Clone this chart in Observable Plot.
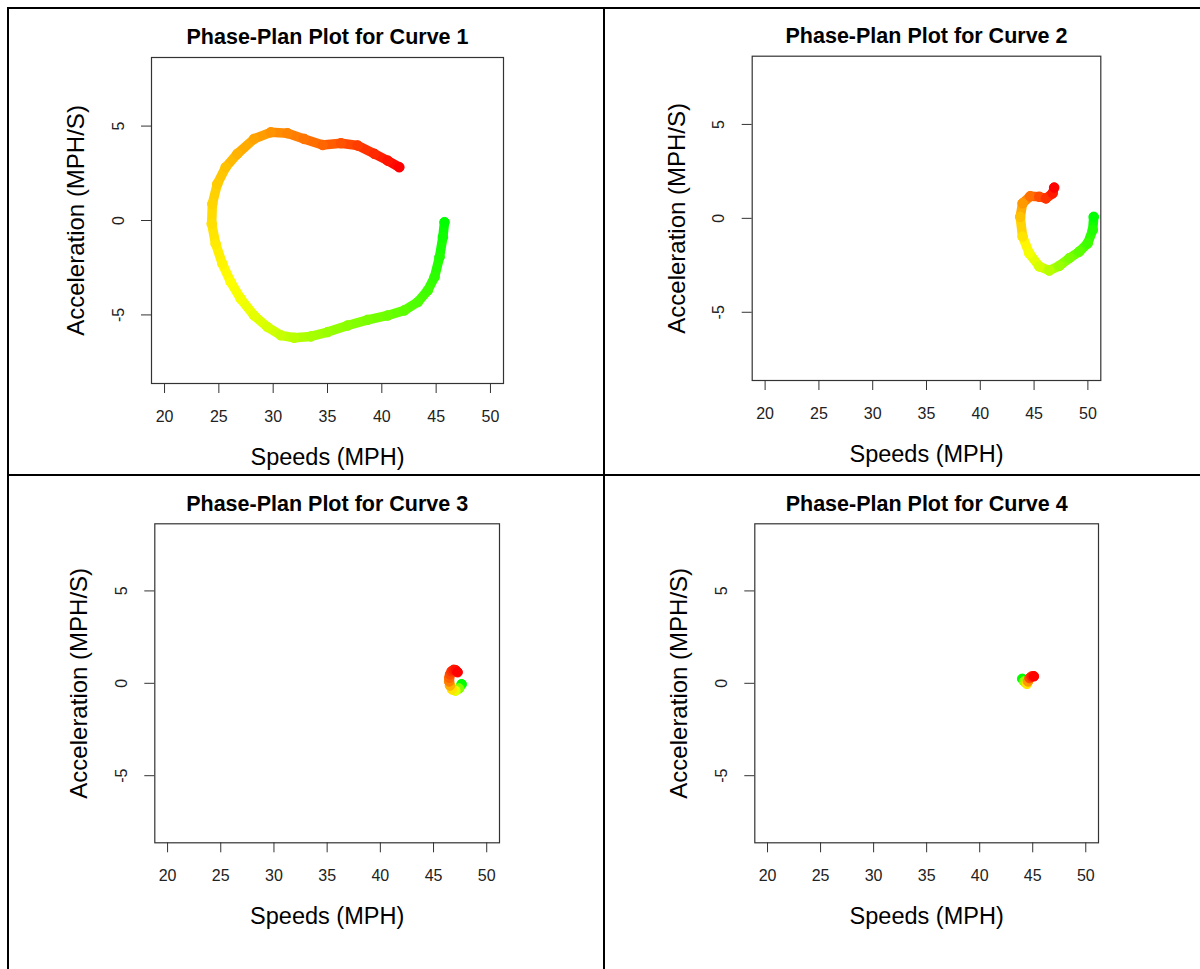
<!DOCTYPE html>
<html>
<head>
<meta charset="utf-8">
<script src="https://cdn.jsdelivr.net/npm/d3@7"></script>
<script src="https://cdn.jsdelivr.net/npm/@observablehq/plot@0.6"></script>
<style>
  html, body { margin: 0; padding: 0; background: #fff; }
  #page { position: relative; width: 1200px; height: 969px; overflow: hidden; background: #fff; }
  .panel { position: absolute; }
  .rule { position: absolute; background: #000; z-index: 5; }
</style>
</head>
<body>
<div id="page"></div>
<script>
// ---- Data ----
const titles = ["Phase-Plan Plot for Curve 1", "Phase-Plan Plot for Curve 2", "Phase-Plan Plot for Curve 3", "Phase-Plan Plot for Curve 4"];
const xLabel = "Speeds (MPH)";
const yLabel = "Acceleration (MPH/S)";
const xTicks = [20, 25, 30, 35, 40, 45, 50];
const yTicks = [-5, 0, 5];

// Curve 1 (green start -> red end)
const speed1 = [45.77,45.62,45.31,44.85,44.23,43.31,42.08,40.54,38.70,36.85,35.01,33.47,31.93,30.70,29.47,28.24,27.01,26.09,25.32,24.70,24.34,24.40,24.86,25.63,26.70,28.24,29.78,31.32,32.85,34.55,36.24,37.78,39.31,40.54,41.61];
const accel1 = [-0.09,-0.88,-1.94,-3.00,-3.70,-4.32,-4.76,-5.03,-5.26,-5.56,-5.91,-6.14,-6.21,-6.08,-5.64,-5.03,-4.14,-3.26,-2.29,-1.23,-0.17,0.88,1.94,2.82,3.53,4.32,4.67,4.62,4.32,4.00,4.09,3.97,3.53,3.17,2.82];
const time1  = [0,0.03,0.06,0.09,0.12,0.15,0.18,0.21,0.24,0.27,0.30,0.33,0.36,0.39,0.42,0.45,0.48,0.50,0.52,0.54,0.56,0.58,0.60,0.62,0.65,0.68,0.71,0.74,0.77,0.80,0.84,0.88,0.92,0.96,1];

// Curve 2
const speed2 = [50.54,50.45,49.98,49.20,48.27,47.34,46.41,45.48,44.55,43.93,43.71,43.93,44.64,45.48,46.10,46.72,46.87];
const accel2 = [0.08,-0.62,-1.33,-1.77,-2.12,-2.53,-2.78,-2.56,-1.86,-0.97,0.08,0.80,1.18,1.15,1.06,1.33,1.64];
const time2  = [0,0.06,0.12,0.18,0.24,0.30,0.36,0.42,0.48,0.55,0.62,0.70,0.78,0.85,0.90,0.95,1];

// Curve 3
const speed3 = [47.64,47.40,47.05,46.75,46.55,46.47,46.48,46.55,46.70,46.90,47.10,47.26];
const accel3 = [-0.05,-0.28,-0.40,-0.33,-0.12,0.10,0.30,0.48,0.65,0.73,0.70,0.60];
const time3  = [0,0.25,0.45,0.55,0.65,0.75,0.80,0.85,0.90,0.94,0.97,1];

// Curve 4
const speed4 = [44.01,44.20,44.45,44.55,44.70,44.90,45.11];
const accel4 = [0.24,0.10,-0.03,0.10,0.28,0.37,0.38];
const time4  = [0,0.30,0.55,0.70,0.85,0.93,1];

const colorStops = ["#00ff00", "#ffff00", "#ff0000"];

// ---- Layout of the four panels ----
const panels = [
  {speed: speed1, accel: accel1, time: time1, title: titles[0], left: 0,   top: 0,   width: 603, height: 475, ml: 151,   mr: 100,   mt: 57,   mb: 92},
  {speed: speed2, accel: accel2, time: time2, title: titles[1], left: 604, top: 0,   width: 596, height: 475, ml: 147.7, mr: 99.7,  mt: 55.7, mb: 95},
  {speed: speed3, accel: accel3, time: time3, title: titles[2], left: 0,   top: 475, width: 603, height: 494, ml: 154.3, mr: 104,   mt: 48.3, mb: 126.7},
  {speed: speed4, accel: accel4, time: time4, title: titles[3], left: 604, top: 475, width: 596, height: 494, ml: 150.3, mr: 102,   mt: 48.3, mb: 126.7}
];

const font = "'Liberation Sans', Arial, Helvetica, sans-serif";
const page = document.getElementById("page");

for (const p of panels) {
  const pts = p.speed.map((s, i) => ({speed: s, accel: p.accel[i], t: p.time[i]}));
  const segs = d3.pairs(pts).map(([a, b]) => ({x1: a.speed, y1: a.accel, x2: b.speed, y2: b.accel, t: (a.t + b.t) / 2}));
  const chart = Plot.plot({
    width: p.width,
    height: p.height,
    marginLeft: p.ml,
    marginRight: p.mr,
    marginTop: p.mt,
    marginBottom: p.mb,
    x: {domain: [18.8, 51.2]},
    y: {domain: [-8.632, 8.632]},
    color: {type: "linear", domain: [0, 0.5, 1], range: colorStops, interpolate: "rgb"},
    style: {fontFamily: font, background: "transparent", color: "#000", overflow: "visible"},
    marks: [
      Plot.link(segs, {x1: "x1", y1: "y1", x2: "x2", y2: "y2", stroke: "t", strokeWidth: 9.5, strokeLinecap: "round"}),
      Plot.dot(pts, {x: "speed", y: "accel", r: 4.8, fill: "t", stroke: "t", strokeWidth: 1}),
      Plot.frame({stroke: "#333", strokeWidth: 1.2}),
      Plot.axisX({ticks: xTicks, tickSize: 10, tickFormat: () => "", label: null, stroke: "#333"}),
      Plot.axisY({ticks: yTicks, tickSize: 10, tickFormat: () => "", label: null, stroke: "#333"}),
      Plot.text(xTicks, {x: d => d, text: d => String(d), frameAnchor: "bottom", dy: 33, lineAnchor: "middle", textAnchor: "middle", fontSize: 16, fill: "#222"}),
      Plot.text(yTicks, {y: d => d, text: d => String(d), frameAnchor: "left", dx: -33, rotate: -90, lineAnchor: "middle", textAnchor: "middle", fontSize: 16, fill: "#222"}),
      Plot.text([xLabel], {text: d => d, frameAnchor: "bottom", dy: 74, lineAnchor: "middle", textAnchor: "middle", fontSize: 23.5, fill: "#000"}),
      Plot.text([yLabel], {text: d => d, frameAnchor: "left", dx: -75, rotate: -90, lineAnchor: "middle", textAnchor: "middle", fontSize: 24, fill: "#000"}),
      Plot.text([p.title], {text: d => d, frameAnchor: "top", dy: -20, lineAnchor: "middle", textAnchor: "middle", fontSize: 21.5, fontWeight: "bold", fill: "#000"})
    ]
  });
  const wrap = document.createElement("div");
  wrap.className = "panel";
  wrap.style.left = p.left + "px";
  wrap.style.top = p.top + "px";
  wrap.appendChild(chart);
  page.appendChild(wrap);
}

// Panel separators (outer frame and dividers)
const rules = [
  {l: 7, t: 7, w: 1193, h: 2},
  {l: 7, t: 7, w: 2, h: 962},
  {l: 603, t: 7, w: 2, h: 962},
  {l: 7, t: 474, w: 1193, h: 2}
];
for (const r of rules) {
  const d = document.createElement("div");
  d.className = "rule";
  d.style.left = r.l + "px"; d.style.top = r.t + "px";
  d.style.width = r.w + "px"; d.style.height = r.h + "px";
  page.appendChild(d);
}
</script>
</body>
</html>
